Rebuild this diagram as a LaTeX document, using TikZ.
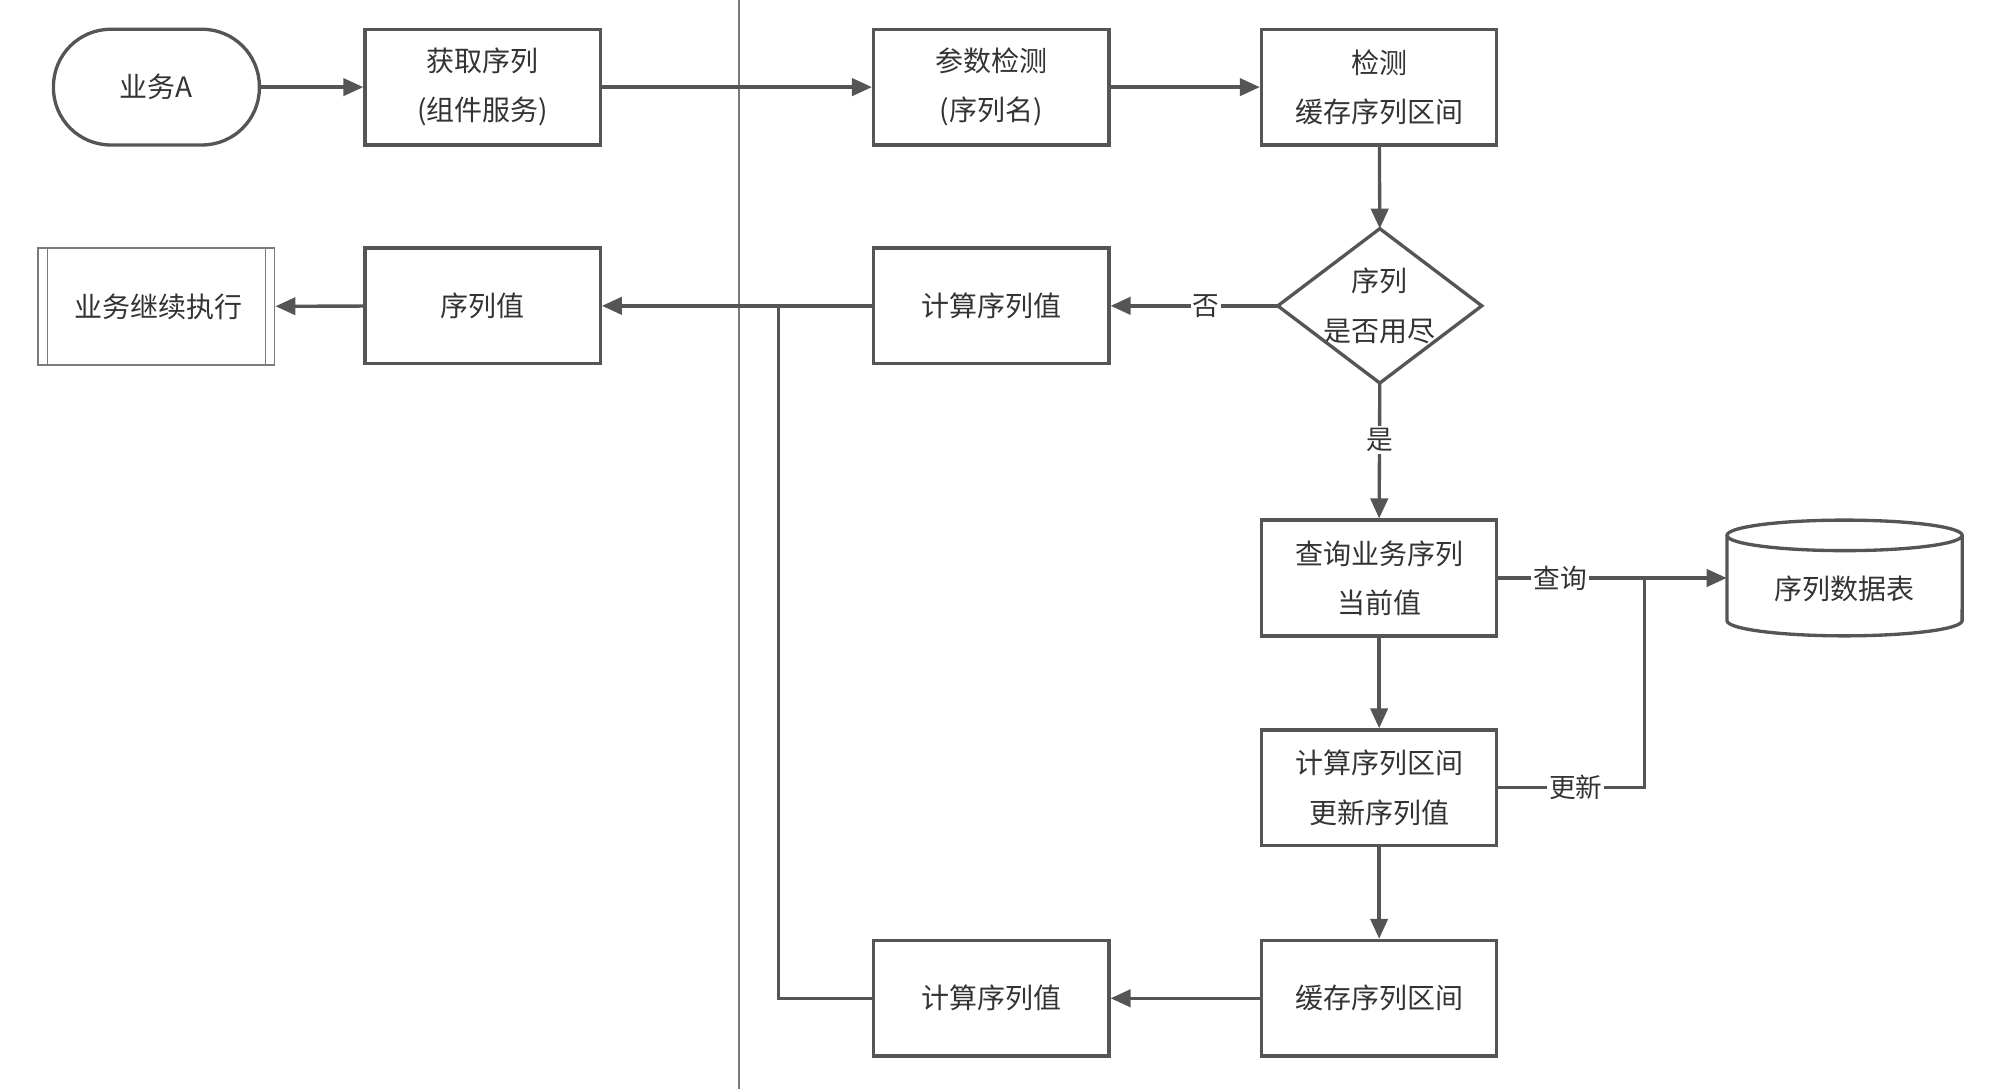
\documentclass[tikz,border=0pt]{standalone}
\usepackage{fontspec}
\setmainfont{Noto Sans CJK SC}
\usetikzlibrary{arrows.meta}
\definecolor{lnc}{HTML}{555555}
\definecolor{txc}{HTML}{333333}
\definecolor{thinc}{HTML}{7a7a7a}
\begin{document}
\begin{tikzpicture}[x=0.9538pt,y=-0.9538pt,
  every node/.style={font=\fontsize{21}{37}\selectfont, text=txc},
  box/.style={draw=lnc, line width=2.5pt, minimum width=176.5pt, minimum height=86.8pt, inner sep=0pt, align=center},
  conn/.style={draw=lnc, line width=2.5pt},
  arr/.style={conn, -{Triangle[length=15pt,width=13pt]}},
  lab/.style={fill=white, inner sep=1.5pt, font=\fontsize{20}{24}\selectfont},
  thinline/.style={draw=thinc, line width=1.2pt}]
\useasboundingbox (0,0) rectangle (1568,856);

% separator
\draw[thinline] (581,0) -- (581,856);

% nodes
\node[draw=lnc, line width=2.5pt, rounded corners=43pt, minimum width=154.5pt, minimum height=86.8pt, inner sep=0pt] (a) at (123,68.5) {业务A};
\node[box] (get) at (379.5,68.5) {获取序列\\(组件服务)};
\node[box] (chk) at (779.5,68.5) {参数检测\\(序列名)};
\node[box] (cache) at (1084.5,68.5) {检测\\缓存序列区间};

\node[minimum width=152.6pt, minimum height=115.4pt, inner sep=0pt, align=center] (dec) at (1085,240.5) {序列\\是否用尽};
\draw[conn, line join=miter] (dec.north) -- (dec.east) -- (dec.south) -- (dec.west) -- cycle;

\node[box] (calc1) at (779.5,240.5) {计算序列值};
\node[box] (val) at (379.5,240.5) {序列值};
\node[thinline, minimum width=177.4pt, minimum height=87.7pt, inner sep=0pt] (cont) at (123,241) {\hspace{3pt}业务继续执行};
\draw[thinline] ([xshift=7.5pt]cont.north west) -- ([xshift=7.5pt]cont.south west);
\draw[thinline] ([xshift=-7.5pt]cont.north east) -- ([xshift=-7.5pt]cont.south east);

\node[box] (query) at (1084.5,454.5) {查询业务序列\\当前值};
\node[minimum width=176.5pt, minimum height=86.8pt, inner sep=0pt] (db) at (1450.5,454.5) {};
\node at (1450.5,463) {序列数据表};
\draw[conn] (1358,421) -- (1358,488) arc[start angle=180, end angle=360, x radius=88.2pt, y radius=11.45pt] -- (1543,421);
\draw[conn] (1450.5,421) ellipse [x radius=88.2pt, y radius=11.45pt];

\node[box] (upd) at (1084.5,619.5) {计算序列区间\\更新序列值};
\node[box] (cache2) at (1084.5,785) {缓存序列区间};
\node[box] (calc2) at (779.5,785) {计算序列值};

\coordinate (jq) at (1293,454.5);
\coordinate (jv) at (612,240.5);

% connectors
\draw[arr] (a) -- (get);
\draw[arr] (get) -- (chk);
\draw[arr] (chk) -- (cache);
\draw[arr] (cache) -- (dec.north);
\draw[arr] (dec.west) -- node[lab, pos=0.43]{否} (calc1.east);
\draw[arr] (calc1) -- (val);
\draw[arr] (val) -- (cont);
\draw[arr] (dec.south) -- node[lab, pos=0.42]{是} (query.north);
\draw[arr] (query.east) -- node[lab, pos=0.27]{查询} (db.west);
\draw[conn] (upd.east) -- node[lab, pos=0.53]{更新} (upd.east -| jq) -- (jq);
\draw[arr] (query) -- (upd);
\draw[arr] (upd) -- (cache2);
\draw[arr] (cache2) -- (calc2);
\draw[conn] (calc2.west) -- (calc2.west -| jv) -- (jv);
\end{tikzpicture}
\end{document}
